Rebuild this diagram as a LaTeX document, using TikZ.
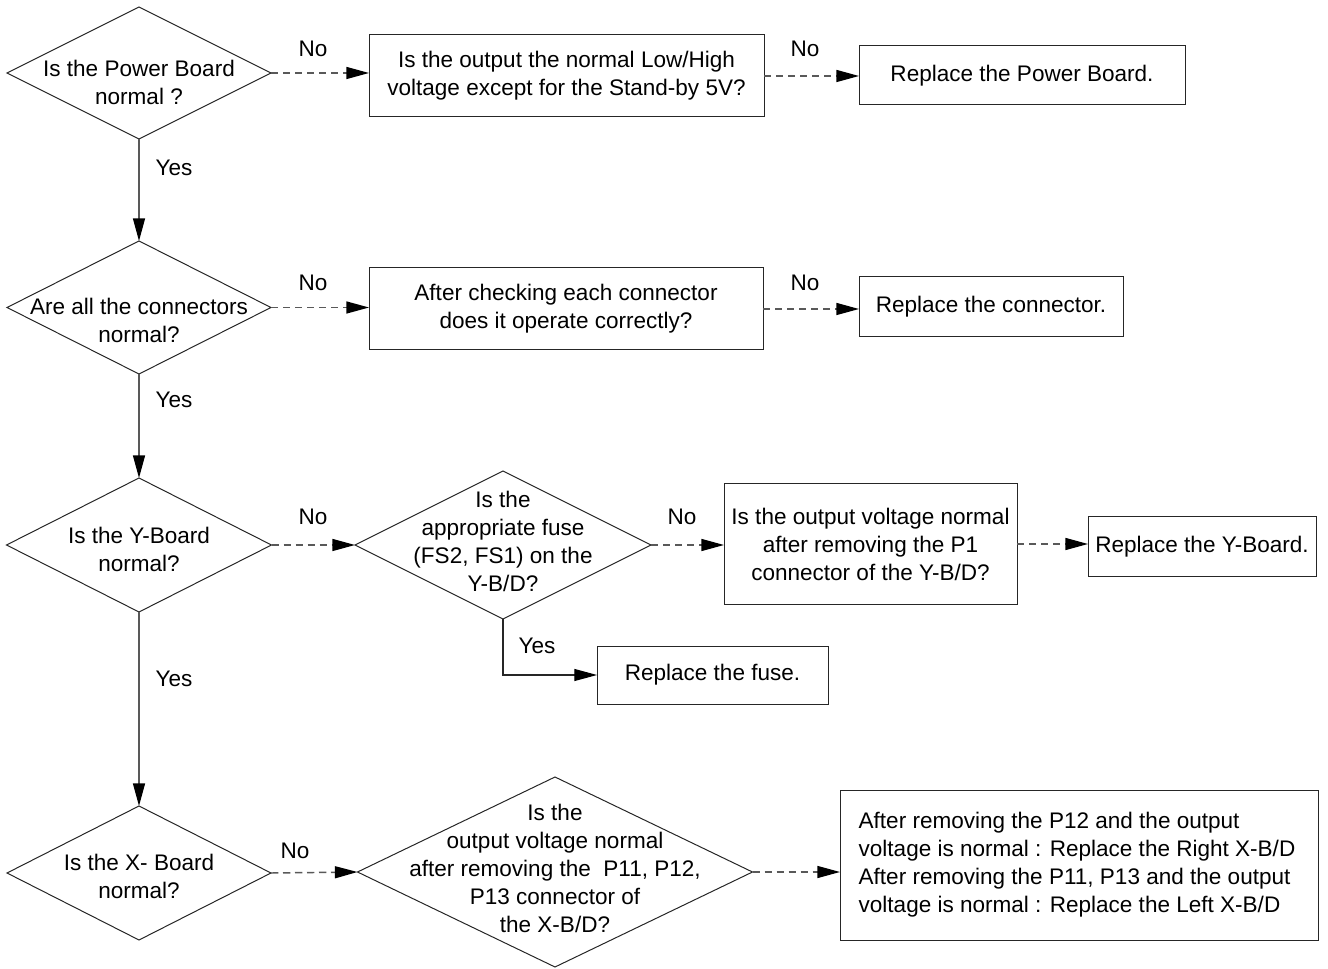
\documentclass[tikz,border=0pt]{standalone}
\usepackage{fontspec}
\setmainfont{Liberation Sans}
\usetikzlibrary{shapes.geometric,arrows.meta}
\begin{document}
\begin{tikzpicture}[x=0.75pt,y=-0.75pt,
  every node/.style={font=\fontsize{16.9}{21}\selectfont, inner sep=0pt, outer sep=0pt},
  dia/.style={diamond, draw=black!85, line width=0.75pt},
  box/.style={rectangle, draw=black!85, line width=0.75pt, align=center},
  txt/.style={align=center},
  conn/.style={draw=black!65, line width=1.1pt, -{Triangle[length=17pt,width=9pt,color=black]}},
  dconn/.style={conn, dash pattern=on 5.5pt off 3.5pt},
  fconn/.style={conn, draw=black!85, line width=0.8pt}
]
\useasboundingbox (0,0) rectangle (1328,969);

% row 1
\node[dia, minimum width=198pt, minimum height=99pt] (d1) at (139,73) {};
\node[txt] (d1t) at (139,82) {Is the Power Board\\normal ?};
\node[box, minimum width=296.25pt, minimum height=61.5pt] (b1) at (566.5,76) {Is the output the normal Low/High\\voltage except for the Stand-by 5V?};
\node[box, minimum width=244.5pt, minimum height=44.25pt] (b2) at (1022,75.5) {Replace the Power Board.};

% row 2
\node[dia, minimum width=198pt, minimum height=99.75pt] (d2) at (139,307.5) {};
\node[txt] (d2t) at (139,320) {Are all the connectors\\normal?};
\node[box, minimum width=295.5pt, minimum height=61.5pt] (b3) at (566,309) {After checking each connector\\does it operate correctly?};
\node[box, minimum width=198pt, minimum height=45pt] (b4) at (991,307) {Replace the connector.};

% row 3
\node[dia, minimum width=198.75pt, minimum height=100.5pt] (d3) at (139,545) {};
\node[txt] (d3t) at (139,549) {Is the Y-Board\\normal?};
\node[dia, minimum width=222pt, minimum height=111pt] (d4) at (503,545) {};
\node[txt] (d4t) at (503,541.5) {Is the\\appropriate fuse\\(FS2, FS1) on the\\Y-B/D?};
\node[box, minimum width=219.75pt, minimum height=90pt] (b5) at (870.5,544) {Is the output voltage normal\\after removing the P1\\connector of the Y-B/D?};
\node[box, minimum width=171pt, minimum height=44.25pt] (b6) at (1202,546.5) {Replace the Y-Board.};
\node[box, minimum width=173.25pt, minimum height=43.5pt] (fuse) at (712.5,675) {Replace the fuse.};

% row 4
\node[dia, minimum width=198pt, minimum height=100.5pt] (d5) at (139,873) {};
\node[txt] (d5t) at (139,876) {Is the X- Board\\normal?};
\node[dia, minimum width=296.25pt, minimum height=142.5pt] (d6) at (555,872) {};
\node[txt] (d6t) at (555,868.5) {Is the\\output voltage normal\\after removing the\ \ P11, P12,\\P13 connector of\\the X-B/D?};
\node[box, minimum width=358.5pt, minimum height=112.5pt] (b7) at (1079,865) {};
\node[align=left] (b7t) at (1077,865) {After removing the P12 and the output\\voltage is normal : Replace the Right X-B/D\\After removing the P11, P13 and the output\\voltage is normal : Replace the Left X-B/D};

% connectors
\draw[dconn] (d1.east) -- (d1.east -| b1.west);
\draw[dconn] (b1.east) -- (b1.east -| b2.west);
\draw[conn] (d1.south) -- (d2.north);
\draw[dconn] (d2.east) -- (d2.east -| b3.west);
\draw[dconn] (b3.east) -- (b3.east -| b4.west);
\draw[conn] (d2.south) -- (d3.north);
\draw[dconn] (d3.east) -- (d4.west);
\draw[dconn] (d4.east) -- (d4.east -| b5.west);
\draw[dconn] (b5.east) -- (b5.east -| b6.west);
\draw[fconn] (d4.south) |- (fuse.west);
\draw[conn] (d3.south) -- (d5.north);
\draw[dconn] (d5.east) -- (d6.west);
\draw[dconn] (d6.east) -- (d6.east -| b7.west);

% labels
\node (n1) at (313,49) {No};
\node (n2) at (805,49) {No};
\node (n3) at (313,283) {No};
\node (n4) at (805,283) {No};
\node (n5) at (313,517) {No};
\node (n6) at (682,517) {No};
\node (n7) at (295,851) {No};
\node (y1) at (174,168) {Yes};
\node (y2) at (174,400) {Yes};
\node (y3) at (174,679) {Yes};
\node (y4) at (537,646) {Yes};
\end{tikzpicture}
\end{document}
